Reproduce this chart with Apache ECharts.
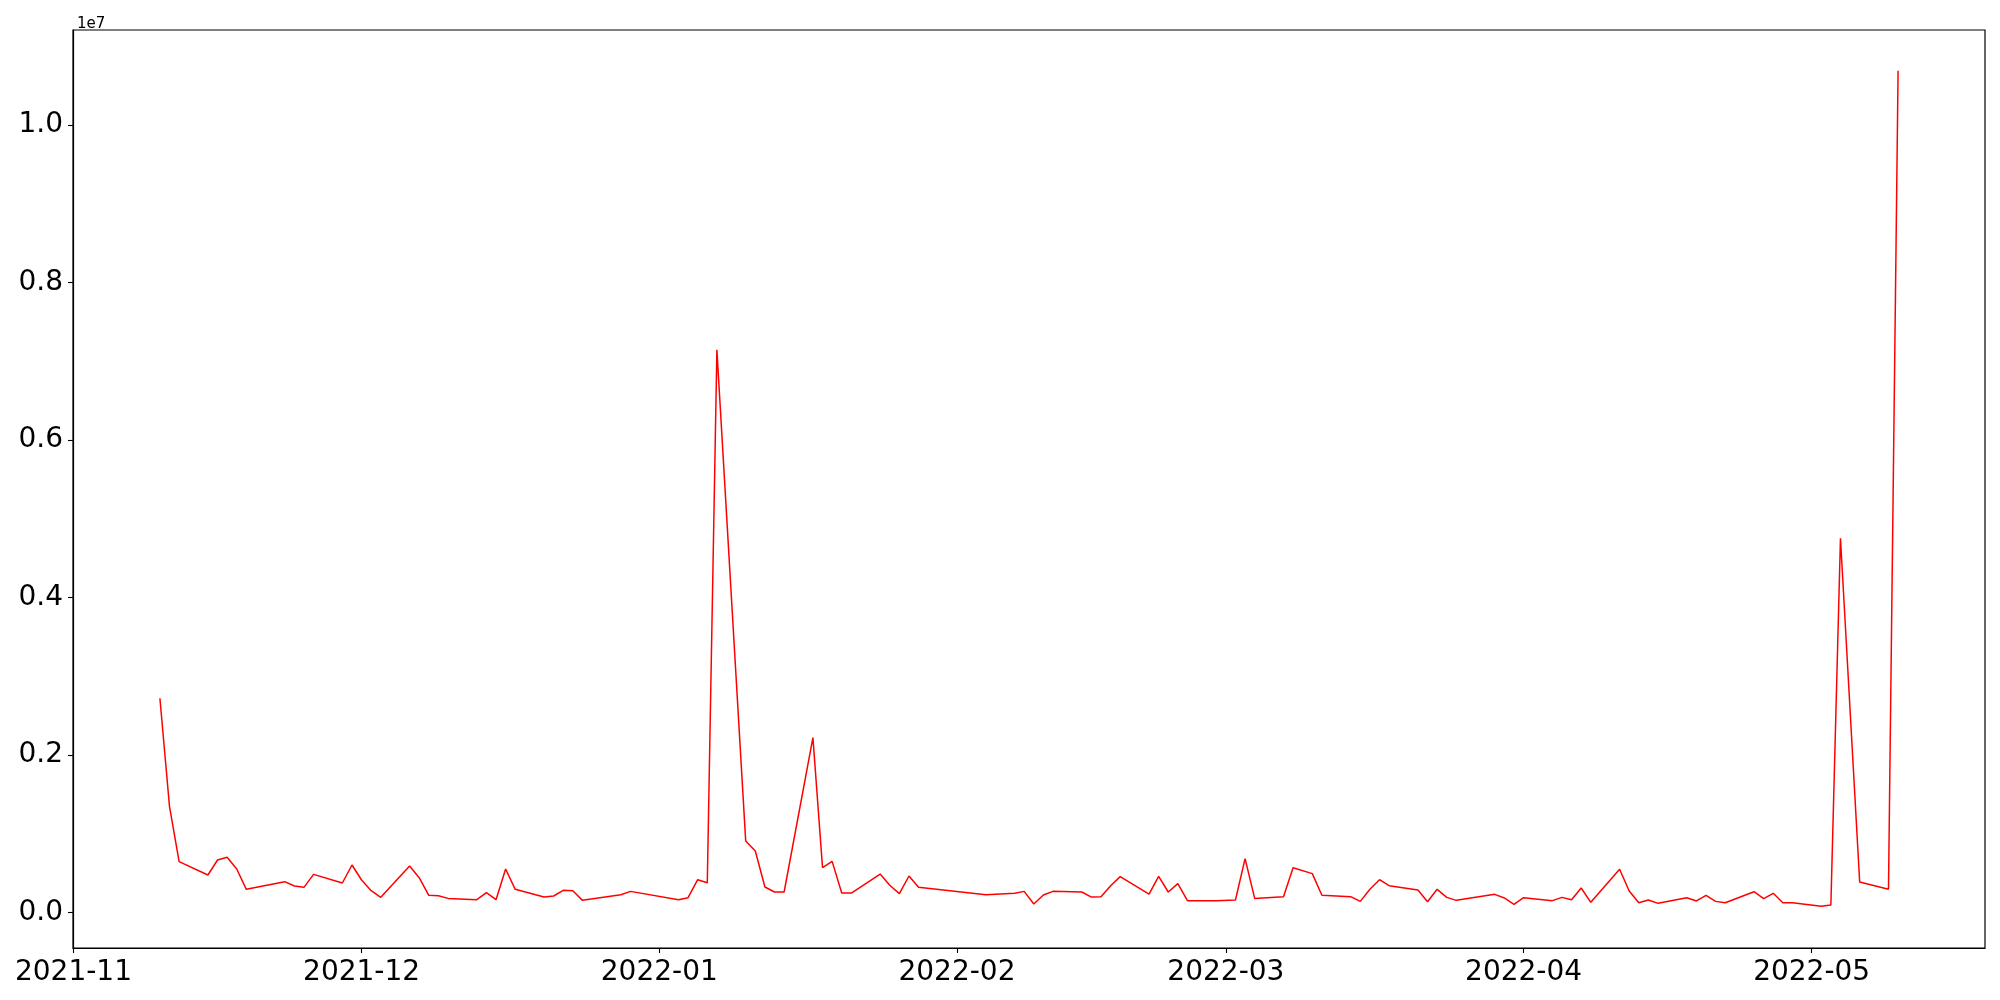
<!DOCTYPE html>
<html>
<head>
<meta charset="utf-8">
<script src="https://cdn.jsdelivr.net/npm/echarts@6/dist/echarts.min.js"></script>
<style>
html,body{margin:0;padding:0;background:#fff;}
#chart{width:2000px;height:1000px;}
</style>
</head>
<body>
<div id="chart"></div>
<script>
const dates = [
'2021-11-10','2021-11-11','2021-11-12','2021-11-15','2021-11-16','2021-11-17','2021-11-18','2021-11-19',
'2021-11-23','2021-11-24','2021-11-25','2021-11-26','2021-11-29','2021-11-30',
'2021-12-01','2021-12-02','2021-12-03','2021-12-06','2021-12-07','2021-12-08','2021-12-09','2021-12-10',
'2021-12-13','2021-12-14','2021-12-15','2021-12-16','2021-12-17','2021-12-20','2021-12-21','2021-12-22',
'2021-12-23','2021-12-24','2021-12-28','2021-12-29',
'2022-01-03','2022-01-04','2022-01-05','2022-01-06','2022-01-07','2022-01-10','2022-01-11','2022-01-12',
'2022-01-13','2022-01-14','2022-01-17','2022-01-18','2022-01-19','2022-01-20','2022-01-21','2022-01-24',
'2022-01-25','2022-01-26','2022-01-27','2022-01-28',
'2022-02-04','2022-02-07','2022-02-08','2022-02-09','2022-02-10','2022-02-11','2022-02-14','2022-02-15',
'2022-02-16','2022-02-17','2022-02-18','2022-02-21','2022-02-22','2022-02-23','2022-02-24','2022-02-25',
'2022-02-28',
'2022-03-02','2022-03-03','2022-03-04','2022-03-07','2022-03-08','2022-03-10','2022-03-11','2022-03-14',
'2022-03-15','2022-03-16','2022-03-17','2022-03-18','2022-03-21','2022-03-22','2022-03-23','2022-03-24',
'2022-03-25','2022-03-29','2022-03-30','2022-03-31',
'2022-04-01','2022-04-04','2022-04-05','2022-04-06','2022-04-07','2022-04-08','2022-04-11','2022-04-12',
'2022-04-13','2022-04-14','2022-04-15','2022-04-18','2022-04-19','2022-04-20','2022-04-21','2022-04-22',
'2022-04-25','2022-04-26','2022-04-27','2022-04-28','2022-04-29',
'2022-05-02','2022-05-03','2022-05-04','2022-05-06','2022-05-09','2022-05-10'
];
const values = [
2723000,1347000,648000,479000,669000,703000,555000,297000,
394000,339000,322000,487000,377000,606000,
415000,280000,195000,593000,445000,221000,216000,182000,
165000,254000,165000,555000,297000,199000,212000,284000,
280000,157000,229000,271000,
165000,191000,419000,381000,7146000,911000,784000,326000,
263000,263000,2223000,572000,652000,250000,250000,491000,
348000,242000,466000,322000,
229000,246000,271000,110000,225000,271000,263000,199000,
204000,343000,458000,237000,462000,263000,369000,153000,
153000,
161000,686000,182000,204000,572000,496000,221000,204000,
144000,297000,419000,343000,288000,140000,297000,195000,
157000,233000,187000,106000,
191000,153000,195000,165000,314000,132000,551000,276000,
127000,161000,119000,191000,149000,221000,144000,127000,
267000,178000,246000,127000,127000,
81000,98000,4755000,390000,297000,10690000
];
const monthTicks = ['2021-11-01','2021-12-01','2022-01-01','2022-02-01','2022-03-01','2022-04-01','2022-05-01'];
const yTicks = [0, 2000000, 4000000, 6000000, 8000000, 10000000];

function ts(s){ const p = s.split('-').map(Number); return new Date(p[0], p[1]-1, p[2]).getTime(); }
const xTickVals = monthTicks.map(ts);
const seriesData = dates.map((d,i)=>[ts(d), values[i]]);
const firstT = ts(dates[0]), lastT = ts(dates[dates.length-1]);
const span = lastT - firstT;

const chart = echarts.init(document.getElementById('chart'), null, {renderer:'canvas'});
const font = 'DejaVu Sans';
chart.setOption({
  animation:false,
  backgroundColor:'#fff',
  title:{text:'1e7', left:72, top:12, textStyle:{fontFamily:font, fontSize:15, fontWeight:'normal', color:'#000'}},
  grid:{left:73, right:15, top:30, bottom:52, show:true, borderColor:'#000', borderWidth:1.2, backgroundColor:'transparent'},
  xAxis:{
    type:'value',
    min: firstT - span*0.05,
    max: lastT + span*0.05,
    splitLine:{show:false},
    axisLine:{show:true, onZero:false, lineStyle:{color:'#000', width:1.2}},
    axisTick:{show:true, customValues:xTickVals, length:5, lineStyle:{color:'#000', width:1.1}},
    axisLabel:{show:true, customValues:xTickVals, margin:11, fontFamily:font, fontSize:28, color:'#000',
      formatter:function(v){ const d=new Date(v); const m=d.getMonth()+1; return d.getFullYear()+'-'+(m<10?'0'+m:m); }}
  },
  yAxis:{
    type:'value',
    min:-448000,
    max:11207000,
    splitLine:{show:false},
    axisLine:{show:true, lineStyle:{color:'#000', width:1.2}},
    axisTick:{show:true, customValues:yTicks, length:5, lineStyle:{color:'#000', width:1.1}},
    axisLabel:{show:true, customValues:yTicks, margin:10, fontFamily:font, fontSize:28, color:'#000',
      formatter:function(v){ return (v/1e7).toFixed(1); }}
  },
  series:[{
    type:'line',
    data:seriesData,
    showSymbol:false,
    symbol:'none',
    lineStyle:{color:'#ff0000', width:1.5},
    itemStyle:{color:'#ff0000'}
  }]
});
</script>
</body>
</html>
